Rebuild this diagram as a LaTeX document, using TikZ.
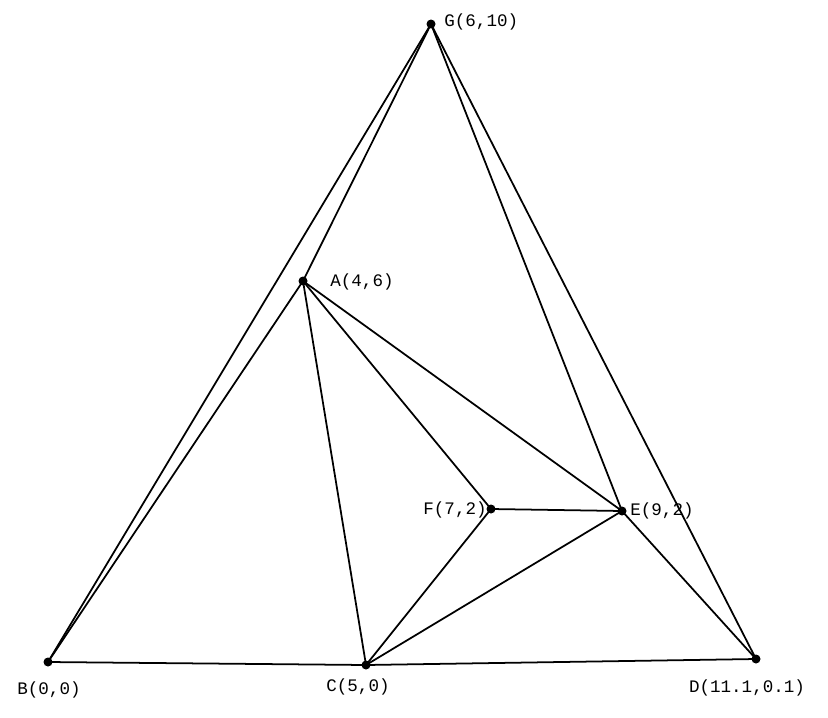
\documentclass[tikz,border=0pt]{standalone}
\usepackage{fontspec}
\setmonofont{Liberation Mono}
\tikzstyle{pt}=[circle, fill=black, inner sep=0, minimum size=0.18cm]
\tikzstyle{lbl}=[font=\ttfamily, inner sep=0]
\tikzstyle{edge}=[line width=1pt]

\begin{document}
\begin{tikzpicture}[x=0.02cm,y=-0.02cm]
\useasboundingbox (0,0) rectangle (828,717);

%   vertices
	\node[pt] (G) at (431,24) {};
	\node[pt] (A) at (303,281) {};
	\node[pt] (B) at (48,662) {};
	\node[pt] (C) at (366,665) {};
	\node[pt] (D) at (756,659) {};
	\node[pt] (E) at (622,511) {};
	\node[pt] (F) at (491,509) {};

%   labels
	\node[lbl,anchor=west] (lG) at (444,22) {G(6,10)};
	\node[lbl,anchor=west] (lA) at (330,282) {A(4,6)};
	\node[lbl,anchor=east] (lF) at (487,510) {F(7,2)};
	\node[lbl,anchor=west] (lE) at (630,511) {E(9,2)};
	\node[lbl] (lB) at (49,690) {B(0,0)};
	\node[lbl] (lC) at (358,687) {C(5,0)};
	\node[lbl] (lD) at (747,688) {D(11.1,0.1)};

%   edges
	\draw[edge] (B.center) -- (G.center);
	\draw[edge] (B.center) -- (A.center);
	\draw[edge] (A.center) -- (G.center);
	\draw[edge] (B.center) -- (C.center) -- (D.center);
	\draw[edge] (A.center) -- (C.center);
	\draw[edge] (A.center) -- (F.center);
	\draw[edge] (A.center) -- (E.center);
	\draw[edge] (F.center) -- (E.center);
	\draw[edge] (F.center) -- (C.center);
	\draw[edge] (C.center) -- (E.center);
	\draw[edge] (E.center) -- (D.center);
	\draw[edge] (G.center) -- (E.center);
	\draw[edge] (G.center) -- (D.center);

\end{tikzpicture}
\end{document}
